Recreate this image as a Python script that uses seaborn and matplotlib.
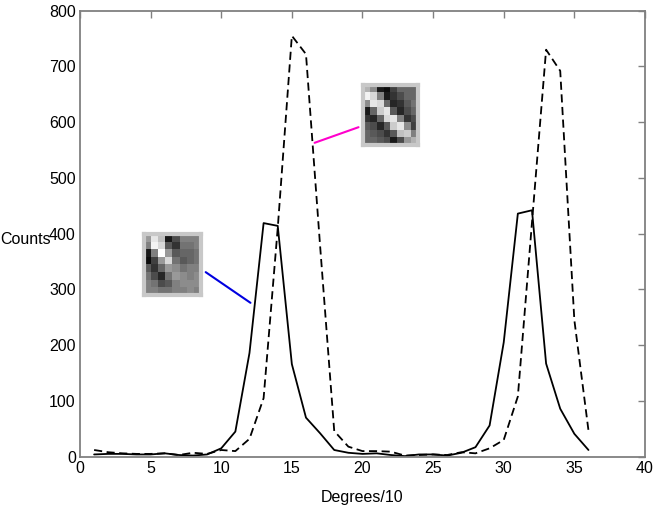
import numpy as np
import pandas as pd
import matplotlib
matplotlib.use("Agg")
import matplotlib.pyplot as plt
import seaborn as sns

sns.set_style("white")
plt.rcParams["font.family"] = ["Liberation Sans", "DejaVu Sans"]
plt.rcParams["text.color"] = "black"
plt.rcParams["xtick.labelcolor"] = "black"
plt.rcParams["ytick.labelcolor"] = "black"

# Histogram of orientations for two filters
degrees = list(range(1, 37))
counts_solid = [4, 5, 5, 4, 4, 6, 3, 2, 4, 15, 45, 186, 419, 414, 166, 70, 42, 12,
                7, 5, 6, 3, 1, 4, 4, 2, 7, 17, 56, 205, 436, 442, 167, 86, 41, 12]
counts_dashed = [12, 8, 6, 5, 5, 6, 3, 7, 5, 12, 10, 32, 105, 410, 755, 722, 378, 46,
                 18, 10, 10, 9, 2, 3, 4, 3, 8, 6, 15, 30, 108, 420, 730, 692, 245, 47]

# Filter patches shown as insets (0 = black, 1 = white)
patch_solid = [
    [0.60, 0.90, 0.75, 0.10, 0.30, 0.50, 0.50, 0.50],
    [0.50, 0.95, 0.85, 0.35, 0.20, 0.45, 0.45, 0.50],
    [0.10, 0.50, 1.00, 0.60, 0.35, 0.40, 0.40, 0.45],
    [0.05, 0.25, 0.60, 0.85, 0.45, 0.35, 0.40, 0.45],
    [0.35, 0.20, 0.40, 0.60, 0.55, 0.45, 0.50, 0.50],
    [0.45, 0.30, 0.15, 0.45, 0.60, 0.55, 0.50, 0.55],
    [0.50, 0.45, 0.30, 0.35, 0.50, 0.55, 0.55, 0.55],
    [0.50, 0.50, 0.45, 0.45, 0.50, 0.50, 0.55, 0.50],
]
patch_dashed = [
    [0.70, 0.55, 0.10, 0.05, 0.25, 0.40, 0.40, 0.40],
    [0.95, 0.85, 0.50, 0.10, 0.20, 0.30, 0.40, 0.40],
    [0.55, 0.90, 0.85, 0.40, 0.15, 0.20, 0.35, 0.45],
    [0.10, 0.40, 0.80, 0.90, 0.35, 0.15, 0.30, 0.40],
    [0.20, 0.15, 0.40, 0.85, 0.90, 0.50, 0.20, 0.30],
    [0.35, 0.30, 0.15, 0.35, 0.80, 0.90, 0.55, 0.25],
    [0.40, 0.35, 0.30, 0.20, 0.35, 0.75, 0.80, 0.50],
    [0.40, 0.40, 0.35, 0.30, 0.10, 0.30, 0.60, 0.70],
]

df = pd.DataFrame({"degrees": degrees, "solid": counts_solid, "dashed": counts_dashed})

fig = plt.figure(figsize=(6.54, 5.11), dpi=100)
ax = fig.add_axes([0.1223, 0.1063, 0.8639, 0.8728])

sns.lineplot(data=df, x="degrees", y="solid", ax=ax, color="black", linewidth=1.3)
sns.lineplot(data=df, x="degrees", y="dashed", ax=ax, color="black", linewidth=1.3,
             linestyle=(0, (4.5, 2.5)))

ax.set_xlim(0, 40)
ax.set_ylim(0, 800)
ax.set_xticks(range(0, 41, 5))
ax.set_yticks(range(0, 801, 100))
ax.set_xlabel("Degrees/10", fontsize=11.5, labelpad=10, color="black")
ax.set_ylabel("Counts", fontsize=11.5, rotation=0, color="black",
              ha="left", va="center")
ax.yaxis.set_label_coords(-0.142, 0.486)
ax.tick_params(direction="in", length=5, width=1, color="#808080",
               labelsize=11.5, labelcolor="black", top=True, right=True, pad=3)
for side in ax.spines.values():
    side.set_color("#808080")
    side.set_linewidth(1.3)

# connector lines to the insets
ax.plot([8.9, 12.07], [331, 276], color="#0000e0", linewidth=1.5)
ax.plot([19.72, 16.61], [591, 563], color="#ff00cc", linewidth=1.5)

for patch, rect in [(patch_solid, [0.220, 0.4227, 0.087, 0.119]),
                    (patch_dashed, [0.555, 0.716, 0.084, 0.117])]:
    iax = fig.add_axes(rect)
    iax.imshow(np.array(patch), cmap="gray", vmin=0, vmax=1,
               aspect="auto", interpolation="nearest")
    iax.set_xticks([])
    iax.set_yticks([])
    for side in iax.spines.values():
        side.set_color("#c8c8c8")
        side.set_linewidth(3)

fig.savefig("out.png", dpi=100)
